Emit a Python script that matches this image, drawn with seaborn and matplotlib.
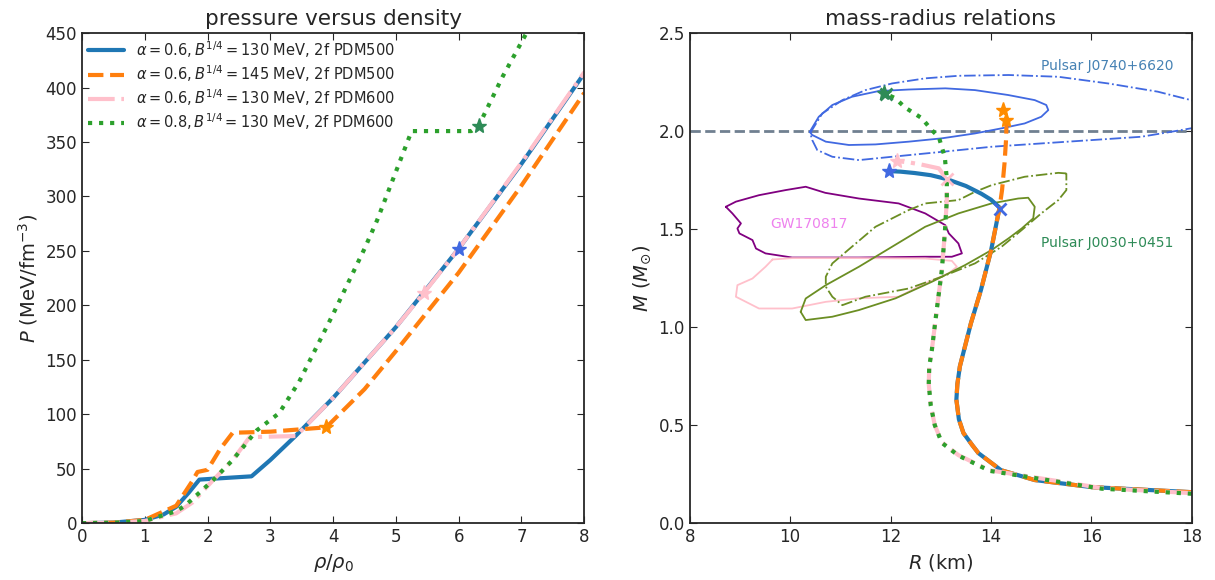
import numpy as np
import pandas as pd
import matplotlib
matplotlib.use("Agg")
import matplotlib.pyplot as plt
import seaborn as sns

# ---- pressure vs density (rho/rho0, P in MeV/fm^3)
rho_blue = [0, 0.5, 1.0, 1.3, 1.5, 1.7, 1.87, 2.7, 3.0, 3.4, 4.0, 5.0, 6.0, 7.0, 8.0]
p_blue = [0, 0.5, 3, 8, 15, 28, 40, 43, 58, 80, 115, 180, 252, 330, 413]

rho_orange = [0, 0.5, 1.0, 1.5, 1.75, 1.84, 2.0, 2.2, 2.4, 3.0, 3.89, 4.5, 5.0, 6.0, 7.0, 8.0]
p_orange = [0, 0.5, 3, 16, 38, 47, 49, 68, 83, 84, 88, 123, 158, 230, 310, 395]

rho_pink = [0, 0.5, 1.0, 1.5, 1.76, 2.08, 2.4, 2.67, 3.41, 4.0, 5.0, 5.44, 6.0, 7.0, 8.0]
p_pink = [0, 0.4, 2, 9, 19, 39, 58, 79, 80, 115, 180, 211, 252, 331, 414]

rho_green = [0, 0.5, 1.0, 1.5, 1.64, 2.08, 2.4, 2.78, 3.14, 3.46, 4.0, 4.5, 4.7, 5.25, 6.2, 6.32, 6.7, 7.08, 7.2]
p_green = [0, 0.4, 2, 11, 16, 39, 58, 85, 101, 130, 192, 252, 278, 360, 360, 365, 410, 450, 465]

star_rho = [6.0, 3.89, 5.44, 6.32]
star_p = [252, 88, 211, 365]

# ---- mass-radius (R in km, M in Msun)
r_blue = [18.0, 16.0, 14.87, 14.2, 13.75, 13.62, 13.45, 13.36, 13.31, 13.33, 13.38, 13.6, 13.8, 14.0,
          14.17, 14.0, 13.81, 13.5, 13.12, 12.8, 12.48, 12.2, 11.97]
m_blue = [0.158, 0.184, 0.22, 0.27, 0.357, 0.40, 0.46, 0.53, 0.63, 0.71, 0.80, 1.02, 1.19, 1.39,
          1.61, 1.65, 1.68, 1.72, 1.755, 1.775, 1.786, 1.793, 1.796]

r_orange = [18.0, 16.0, 14.87, 14.2, 13.75, 13.62, 13.45, 13.36, 13.31, 13.33, 13.38, 13.6, 13.8, 14.0,
            14.17, 14.22, 14.27, 14.30, 14.31, 14.28, 14.24]
m_orange = [0.158, 0.184, 0.22, 0.27, 0.357, 0.40, 0.46, 0.53, 0.63, 0.71, 0.80, 1.02, 1.19, 1.39,
            1.61, 1.70, 1.84, 1.96, 2.05, 2.09, 2.107]

r_pink = [18.0, 16.2, 13.97, 13.35, 13.02, 12.88, 12.80, 12.76, 12.77, 12.82, 12.92, 13.02, 13.08,
          13.12, 13.12, 12.96, 12.6, 12.37, 12.13]
m_pink = [0.153, 0.179, 0.27, 0.347, 0.413, 0.50, 0.60, 0.71, 0.80, 0.88, 1.09, 1.29, 1.48,
          1.65, 1.755, 1.81, 1.83, 1.84, 1.847]

r_green = [18.0, 16.2, 13.97, 13.35, 13.02, 12.88, 12.80, 12.76, 12.77, 12.82, 12.92, 13.02, 13.08,
           13.12, 13.12, 13.08, 12.96, 12.82, 12.62, 12.29, 12.09, 11.87]
m_green = [0.150, 0.176, 0.267, 0.345, 0.41, 0.50, 0.60, 0.71, 0.80, 0.88, 1.09, 1.29, 1.48,
           1.65, 1.755, 1.867, 1.97, 2.005, 2.066, 2.12, 2.168, 2.194]

# onset (x) and maximum mass (star) markers
x_r = [14.17, 13.12, 11.90]
x_m = [1.60, 1.755, 2.19]
x_colors = ["royalblue", "pink", "seagreen"]
mstar_r = [11.97, 14.24, 14.30, 12.13, 11.87]
mstar_m = [1.796, 2.107, 2.056, 1.847, 2.194]
mstar_colors = ["royalblue", "darkorange", "darkorange", "pink", "seagreen"]

# ---- observational contours
j0740_r = [10.39, 10.57, 10.84, 11.23, 11.76, 12.36, 13.09, 13.68, 14.34, 14.87, 15.10, 15.14, 15.0,
           14.67, 14.21, 13.68, 13.02, 12.36, 11.70, 11.17, 10.71, 10.44, 10.39]
j0740_m = [1.996, 2.073, 2.133, 2.175, 2.204, 2.212, 2.218, 2.209, 2.184, 2.158, 2.133, 2.107, 2.073,
           2.039, 2.014, 1.988, 1.963, 1.946, 1.932, 1.929, 1.946, 1.98, 1.996]

j0740b_r = [10.40, 10.64, 11.04, 11.50, 12.03, 12.69, 13.35, 14.35, 15.34, 16.33, 17.32, 17.98, 18.6,
            19.0, 18.6, 17.98, 17.58, 16.99, 16.0, 15.0, 14.01, 13.02, 12.03, 11.37, 10.84, 10.54,
            10.44, 10.40]
j0740b_m = [1.99, 2.09, 2.158, 2.209, 2.243, 2.269, 2.282, 2.286, 2.277, 2.243, 2.201, 2.158, 2.12,
            2.06, 2.03, 2.014, 1.996, 1.971, 1.954, 1.937, 1.92, 1.894, 1.869, 1.852, 1.869, 1.903,
            1.954, 1.99]

gw_r = [8.72, 8.92, 9.38, 9.91, 10.31, 10.70, 11.37, 12.16, 12.69, 13.09, 13.16, 13.35, 13.42, 13.22,
        12.69, 11.37, 10.04, 9.51, 9.32, 9.25, 8.99, 8.95, 9.02, 8.85, 8.72]
gw_m = [1.614, 1.64, 1.673, 1.699, 1.716, 1.685, 1.656, 1.631, 1.58, 1.52, 1.478, 1.427, 1.376, 1.359,
        1.359, 1.355, 1.355, 1.376, 1.401, 1.444, 1.478, 1.503, 1.529, 1.58, 1.614]

gw2_r = [9.65, 10.04, 11.37, 12.69, 13.22, 13.32, 13.16, 12.69, 12.16, 11.37, 10.71, 10.04, 9.38,
         8.92, 8.95, 9.25, 9.51, 9.65]
gw2_m = [1.345, 1.352, 1.352, 1.35, 1.338, 1.308, 1.275, 1.223, 1.155, 1.147, 1.129, 1.095, 1.095,
         1.155, 1.214, 1.248, 1.308, 1.345]

j0030_r = [10.21, 10.31, 10.71, 11.37, 12.03, 12.69, 13.35, 14.01, 14.54, 14.74, 14.87, 14.84, 14.61,
           14.35, 14.01, 13.48, 12.82, 12.10, 11.37, 10.84, 10.31, 10.21]
j0030_m = [1.078, 1.146, 1.214, 1.308, 1.41, 1.512, 1.58, 1.631, 1.656, 1.66, 1.614, 1.555, 1.503,
           1.453, 1.393, 1.316, 1.231, 1.147, 1.087, 1.053, 1.036, 1.078]

j0030b_r = [15.5, 15.34, 14.67, 14.01, 13.68, 13.35, 12.69, 12.36, 11.70, 11.23, 10.84, 10.71, 10.71,
            10.84, 11.04, 11.50, 12.36, 13.02, 13.68, 14.21, 14.61, 15.0, 15.34, 15.5, 15.5]
j0030b_m = [1.784, 1.787, 1.767, 1.724, 1.69, 1.648, 1.631, 1.597, 1.512, 1.41, 1.325, 1.257, 1.206,
            1.155, 1.112, 1.155, 1.197, 1.257, 1.325, 1.41, 1.495, 1.58, 1.648, 1.699, 1.784]

labels = [
    r"$\alpha=0.6, B^{1/4}=130$ MeV, 2f PDM500",
    r"$\alpha=0.6, B^{1/4}=145$ MeV, 2f PDM500",
    r"$\alpha=0.6, B^{1/4}=130$ MeV, 2f PDM600",
    r"$\alpha=0.8, B^{1/4}=130$ MeV, 2f PDM600",
]
colors = ["#1f77b4", "#ff7f0e", "pink", "#2ca02c"]
styles = ["-", "--", "-.", ":"]
star_colors = ["royalblue", "darkorange", "pink", "seagreen"]

sns.set_style("ticks")
plt.rcParams["font.family"] = ["DejaVu Sans"]
plt.rcParams["xtick.direction"] = "in"
plt.rcParams["ytick.direction"] = "in"
plt.rcParams["axes.linewidth"] = 1.3

fig, (ax1, ax2) = plt.subplots(1, 2, figsize=(12.15, 5.8), dpi=100)
fig.subplots_adjust(left=0.0675, right=0.981, bottom=0.098, top=0.943, wspace=0.21)

# Left: pressure versus density
eos = [(rho_blue, p_blue), (rho_orange, p_orange), (rho_pink, p_pink), (rho_green, p_green)]
for (x, y), c, ls, lab in zip(eos, colors, styles, labels):
    sns.lineplot(x=x, y=y, ax=ax1, color=c, linestyle=ls, lw=3, sort=False,
                 estimator=None, label=lab)

for i in range(4):
    ax1.plot(star_rho[i], star_p[i], marker="*", ms=11, color=star_colors[i], ls="none")

ax1.set_xlim(0, 8)
ax1.set_ylim(0, 450)
ax1.set_xticks(range(0, 9))
ax1.set_yticks(range(0, 451, 50))
ax1.set_xlabel(r"$\rho/\rho_0$", fontsize=14)
ax1.set_ylabel(r"$P$ (MeV/fm$^{-3}$)", fontsize=14)
ax1.set_title("pressure versus density", fontsize=15.5)
ax1.legend(loc="upper left", frameon=False, fontsize=10.5, handlelength=2.5,
           borderaxespad=0.0, labelspacing=0.24)

# Right: mass-radius relations
ax2.axhline(2.0, color="slategray", ls="--", lw=2)

contours = [
    (j0740_r, j0740_m, "royalblue", "-"),
    (j0740b_r, j0740b_m, "royalblue", "-."),
    (gw_r, gw_m, "purple", "-"),
    (gw2_r, gw2_m, "pink", "-"),
    (j0030_r, j0030_m, "olivedrab", "-"),
    (j0030b_r, j0030b_m, "olivedrab", "-."),
]
for r, m, c, ls in contours:
    sns.lineplot(x=r, y=m, ax=ax2, color=c, linestyle=ls, lw=1.3, sort=False, estimator=None)

mr = [(r_blue, m_blue), (r_orange, m_orange), (r_pink, m_pink), (r_green, m_green)]
for (r, m), c, ls in zip(mr, colors, styles):
    sns.lineplot(x=r, y=m, ax=ax2, color=c, linestyle=ls, lw=3, sort=False, estimator=None)

for r, m, c in zip(x_r, x_m, x_colors):
    ax2.plot(r, m, marker="x", ms=8, mew=2, color=c, ls="none")
for r, m, c in zip(mstar_r, mstar_m, mstar_colors):
    ax2.plot(r, m, marker="*", ms=11, color=c, ls="none")

ax2.text(15.0, 2.33, "Pulsar J0740+6620", color="steelblue", fontsize=10, va="center")
ax2.text(9.6, 1.525, "GW170817", color="violet", fontsize=10, va="center")
ax2.text(15.0, 1.43, "Pulsar J0030+0451", color="seagreen", fontsize=10, va="center")

ax2.set_xlim(8, 18)
ax2.set_ylim(0, 2.5)
ax2.set_xticks(range(8, 19, 2))
ax2.set_yticks(np.arange(0, 2.51, 0.5))
ax2.set_xlabel(r"$R$ (km)", fontsize=14)
ax2.set_ylabel(r"$M$ ($M_{\odot}$)", fontsize=14)
ax2.set_title("mass-radius relations", fontsize=15.5)

for ax in (ax1, ax2):
    ax.tick_params(top=True, right=True, labelsize=12, length=5)

plt.savefig("out.png", dpi=100)
